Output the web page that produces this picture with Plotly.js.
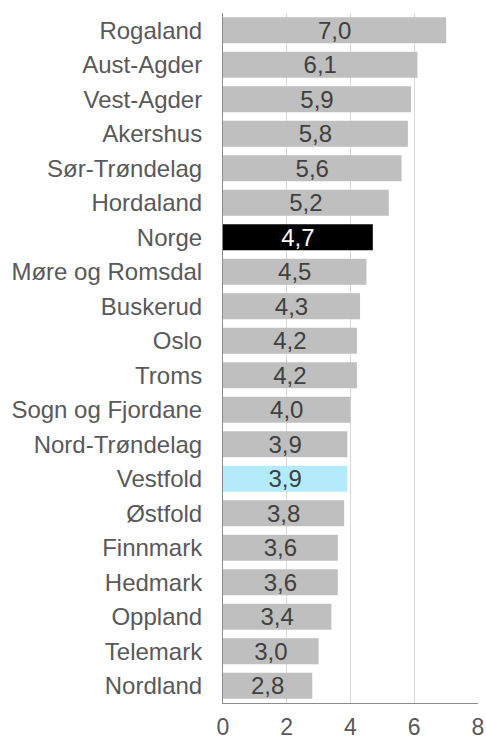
<!DOCTYPE html>
<html><head><meta charset="utf-8">
<script src="https://cdn.plot.ly/plotly-3.0.1.min.js"></script>
<style>html,body{margin:0;padding:0;background:#fff}#chart{width:486px;height:742px}</style>
</head><body><div id="chart"></div>
<script>
const categories = ["Rogaland","Aust-Agder","Vest-Agder","Akershus","Sør-Trøndelag","Hordaland","Norge","Møre og Romsdal","Buskerud","Oslo","Troms","Sogn og Fjordane","Nord-Trøndelag","Vestfold","Østfold","Finnmark","Hedmark","Oppland","Telemark","Nordland"];
const values = [7.0,6.1,5.9,5.8,5.6,5.2,4.7,4.5,4.3,4.2,4.2,4.0,3.9,3.9,3.8,3.6,3.6,3.4,3.0,2.8];
const tickVals = [0,2,4,6,8];

const colors = categories.map(c => c === "Norge" ? "#000000" : (c === "Vestfold" ? "#b3ebfb" : "#bfbfbf"));
const textColors = categories.map(c => c === "Norge" ? "#ffffff" : "#404040");

const trace = {
  type: "bar",
  orientation: "h",
  x: values,
  y: categories,
  marker: {color: colors},
  texttemplate: "%{x:.1f}",
  textposition: "inside",
  insidetextanchor: "middle",
  constraintext: "none",
  textangle: 0,
  insidetextfont: {family: "Liberation Sans, Arial, sans-serif", size: 24, color: textColors},
  hoverinfo: "none",
  cliponaxis: false
};

const layout = {
  width: 486, height: 742,
  margin: {l: 223, r: 8, t: 13, b: 39},
  paper_bgcolor: "#ffffff", plot_bgcolor: "#ffffff",
  separators: ", ",
  showlegend: false,
  bargap: 0.25,
  font: {family: "Liberation Sans, Arial, sans-serif", color: "#595959"},
  xaxis: {
    range: [0, 8], tickvals: tickVals, ticktext: tickVals.map(String),
    showgrid: true, gridcolor: "#d9d9d9", gridwidth: 1,
    zeroline: false, showline: true, linecolor: "#8c8c8c", linewidth: 1,
    ticks: "", ticklabelstandoff: 3,
    tickfont: {size: 23, color: "#595959"}, fixedrange: true
  },
  yaxis: {
    autorange: "reversed", type: "category",
    showline: true, linecolor: "#8c8c8c", linewidth: 1, mirror: false,
    showgrid: false, ticks: "", ticklabelstandoff: 15,
    tickfont: {size: 24, color: "#595959"}, fixedrange: true
  }
};

Plotly.newPlot("chart", [trace], layout, {staticPlot: true, displayModeBar: false});
</script></body></html>
